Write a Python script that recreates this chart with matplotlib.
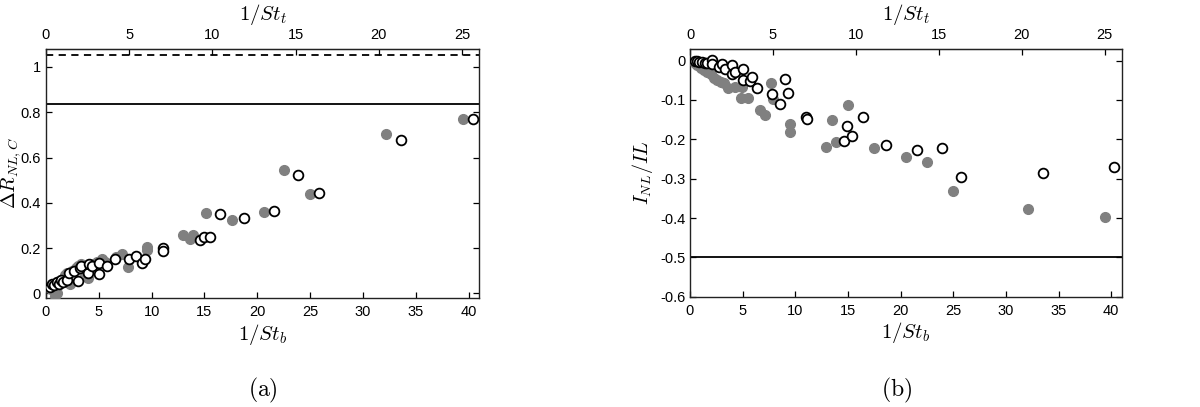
import numpy as np
import matplotlib
matplotlib.use("Agg")
import matplotlib.pyplot as plt
from matplotlib.ticker import FuncFormatter

plt.rcParams["font.family"] = "Liberation Sans"
plt.rcParams["mathtext.fontset"] = "cm"
plt.rcParams["axes.unicode_minus"] = False

# =========================================================
# Data (x = 1/St_b)
# =========================================================
# (a) Delta R_{NL,C}
a_fill_x = [0.5, 0.8, 0.9, 1.0, 1.2, 1.5, 1.8, 2.0, 2.3, 2.5, 2.8, 3.0, 3.3, 3.5,
            4.0, 4.2, 4.8, 5.3, 5.6, 6.6, 7.2, 7.8, 9.6, 9.6,
            13.0, 13.6, 13.9, 15.1, 17.6, 20.6, 22.5, 25.0, 32.2, 39.5]
a_fill_y = [0.02, 0.03, -0.01, 0.0, 0.05, 0.06, 0.08, 0.09, 0.04, 0.10, 0.11, 0.12, 0.13, 0.10,
            0.07, 0.13, 0.14, 0.15, 0.14, 0.16, 0.175, 0.118, 0.206, 0.191,
            0.256, 0.241, 0.260, 0.357, 0.326, 0.360, 0.546, 0.437, 0.703, 0.771]
a_open_x = [0.4, 0.6, 0.8, 1.0, 1.2, 1.4, 1.6, 2.0, 2.2, 2.7, 3.0, 3.2, 3.3, 4.0,
            4.1, 4.4, 5.0, 5.0, 5.8, 6.5, 7.9, 8.5, 9.1, 9.4, 11.1, 11.1,
            14.6, 15.0, 15.5, 16.5, 18.7, 21.6, 23.9, 25.8, 33.6, 40.4]
a_open_y = [0.03, 0.04, 0.035, 0.05, 0.04, 0.06, 0.05, 0.06, 0.09, 0.10, 0.055, 0.11, 0.12, 0.09,
            0.13, 0.12, 0.135, 0.085, 0.12, 0.15, 0.154, 0.166, 0.135, 0.154, 0.201, 0.188,
            0.238, 0.247, 0.250, 0.349, 0.331, 0.363, 0.522, 0.444, 0.676, 0.768]
a_dashed = 1.054
a_solid = 0.836

# (b) I_NL / IL
b_fill_x = [0.5, 0.7, 1.0, 1.3, 1.6, 2.0, 2.3, 2.6, 2.9, 3.2, 3.6, 4.3, 4.9,
            4.8, 5.5, 6.6, 7.1, 7.7, 7.9, 9.5, 9.5, 12.9, 13.5, 13.9, 15.0,
            17.5, 20.5, 22.5, 25.0, 32.1, 39.4]
b_fill_y = [-0.005, -0.012, -0.018, -0.025, -0.028, -0.035, -0.045, -0.05, -0.055, -0.058,
            -0.070, -0.068, -0.068, -0.096, -0.094, -0.125, -0.138, -0.057, -0.098,
            -0.160, -0.181, -0.219, -0.152, -0.208, -0.112, -0.222, -0.246, -0.257,
            -0.331, -0.376, -0.397]
b_open_x = [0.5, 0.7, 0.9, 1.1, 1.4, 1.6, 2.05, 2.05, 2.8, 3.0, 3.3, 4.0, 4.0, 4.3,
            5.0, 5.0, 5.7, 5.9, 6.4, 7.8, 8.5, 9.0, 9.3, 11.0, 11.1,
            14.6, 14.9, 15.4, 16.4, 18.6, 21.6, 23.9, 25.7, 33.5, 40.3]
b_open_y = [0.0, -0.002, -0.004, -0.003, -0.005, -0.006, 0.002, -0.008, -0.015, -0.008,
            -0.021, -0.010, -0.034, -0.028, -0.022, -0.049, -0.051, -0.041, -0.070,
            -0.085, -0.111, -0.047, -0.081, -0.142, -0.149, -0.203, -0.166, -0.191,
            -0.143, -0.215, -0.228, -0.223, -0.295, -0.285, -0.271]
b_solid = -0.5

ST_RATIO = 1.575   # 1/St_b per unit of 1/St_t
GREY = "#808080"


def style_axes(ax, ylim, yticks, ylabel, ylabel_x):
    ax.set_xlim(0, 41)
    ax.set_ylim(*ylim)
    ax.set_xticks(np.arange(0, 41, 5))
    ax.set_yticks(yticks)
    ax.yaxis.set_major_formatter(FuncFormatter(lambda v, p: "%g" % round(v, 3)))
    ax.tick_params(direction="in", length=4, width=0.9, labelsize=10.5,
                   top=False, right=True, pad=5)
    ax.tick_params(axis="y", pad=3.5)
    for s in ax.spines.values():
        s.set_linewidth(1.0)
        s.set_color("#222222")
    ax.set_xlabel(r"$1/St_b$", fontsize=15, labelpad=2)
    ax.set_ylabel(ylabel, fontsize=14.5)
    ax.yaxis.set_label_coords(ylabel_x, 0.5)

    sec = ax.secondary_xaxis("top", functions=(lambda x: x / ST_RATIO,
                                               lambda x: x * ST_RATIO))
    sec.set_xticks(np.arange(0, 26, 5))
    sec.tick_params(direction="in", length=4, width=0.9, labelsize=10.5, pad=5)
    sec.set_xlabel(r"$1/St_t$", fontsize=15, labelpad=6)


def scatter_pair(ax, fx, fy, ox, oy):
    ax.plot(fx, fy, "o", ms=7, color=GREY, mec=GREY, zorder=3)
    ax.plot(ox, oy, "o", ms=7, mfc="white", mec="black", mew=1.3, zorder=4)


fig = plt.figure(figsize=(12, 4.07), dpi=100)
ax1 = fig.add_axes([0.0383, 0.268, 0.361, 0.612])
ax2 = fig.add_axes([0.575, 0.271, 0.3598, 0.609])

# (a)
ax1.axhline(a_dashed, color="black", ls=(0, (4, 3)), lw=1.3)
ax1.axhline(a_solid, color="black", lw=1.3)
scatter_pair(ax1, a_fill_x, a_fill_y, a_open_x, a_open_y)
style_axes(ax1, (-0.02, 1.08), [0, 0.2, 0.4, 0.6, 0.8, 1.0],
           r"$\Delta R_{NL,C}$", -0.053)

# (b)
ax2.axhline(b_solid, color="black", lw=1.3)
scatter_pair(ax2, b_fill_x, b_fill_y, b_open_x, b_open_y)
style_axes(ax2, (-0.6, 0.03), [-0.6, -0.5, -0.4, -0.3, -0.2, -0.1, 0],
           r"$I_{NL}/IL$", -0.081)

fig.text(0.2195, 0.005, r"$\mathrm{(a)}$", fontsize=17, ha="center", va="bottom")
fig.text(0.7475, 0.005, r"$\mathrm{(b)}$", fontsize=17, ha="center", va="bottom")

fig.savefig("out.png", dpi=100)
